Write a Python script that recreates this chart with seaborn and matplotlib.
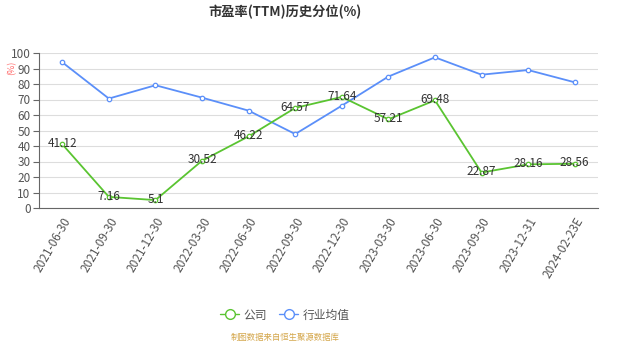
import numpy as np
import pandas as pd
import matplotlib
matplotlib.use("Agg")
import matplotlib.pyplot as plt
import seaborn as sns
from matplotlib.lines import Line2D

dates = ['2021-06-30', '2021-09-30', '2021-12-30', '2022-03-30', '2022-06-30',
         '2022-09-30', '2022-12-30', '2023-03-30', '2023-06-30', '2023-09-30',
         '2023-12-31', '2024-02-23E']
company = [41.12, 7.16, 5.1, 30.52, 46.22, 64.57, 71.64, 57.21, 69.48, 22.87, 28.16, 28.56]
industry = [94.0, 70.6, 79.2, 71.2, 62.8, 47.7, 66.0, 84.8, 97.2, 86.0, 89.0, 81.1]

green = '#5ac431'
blue = '#5b8ff9'

sns.set_style("white")
plt.rcParams['font.family'] = ['Noto Sans CJK SC', 'DejaVu Sans']

fig = plt.figure(figsize=(6.38, 3.51), dpi=100)
ax = fig.add_axes([39 / 638, 1 - 208 / 351, (598 - 39) / 638, (208 - 53) / 351])

# 两条折线分别画，保证空心圆点的描边颜色
for vals, c in [(industry, blue), (company, green)]:
    sns.lineplot(x=np.arange(len(dates)), y=vals, color=c, marker='o', markersize=3.2,
                 markerfacecolor='white', markeredgecolor=c, markeredgewidth=0.9,
                 linewidth=1.3, ax=ax, legend=False)

# 数据标签
for i, v in enumerate(company):
    ax.text(i, v + 0.5, f'{v:g}', ha='center', va='center', fontsize=8.5, color='#333333')

ax.set_xlim(-0.5, len(dates) - 0.5)
ax.set_ylim(0, 100)
ax.set_yticks(range(0, 101, 10))
ax.set_xticks(np.arange(-0.5, len(dates), 1))
ax.set_xticklabels([])
ax.set_xticks(range(len(dates)), minor=True)
ax.set_xticklabels(dates, minor=True, rotation=60, ha='right', rotation_mode='anchor',
                   fontsize=8.5, color='#555555')
ax.tick_params(axis='x', which='minor', length=0, pad=5)
ax.tick_params(axis='x', which='major', length=4, color='#666666', width=0.8)
ax.tick_params(axis='y', length=4, color='#666666', width=0.8, labelsize=8.5,
               labelcolor='#555555', pad=2, left=True)
ax.set_xlabel('')
ax.set_ylabel('')

ax.grid(axis='y', color='#dddddd', linewidth=0.8)
ax.set_axisbelow(True)
for s in ['top', 'right']:
    ax.spines[s].set_visible(False)
ax.spines['left'].set_color('#666666')
ax.spines['bottom'].set_color('#666666')
ax.spines['left'].set_linewidth(0.8)
ax.spines['bottom'].set_linewidth(0.8)

cx = 285 / 638
fig.text(cx, 1 - 12 / 351, '市盈率(TTM)历史分位(%)', ha='center', va='center',
         fontsize=9.5, fontweight='bold', color='#333333')
fig.text(12 / 638, 1 - 68 / 351, '(%)', ha='center', va='center', rotation=90,
         fontsize=6.5, color='#ff6666')

handles = [
    Line2D([], [], color=green, marker='o', markersize=7, markerfacecolor='white',
           linewidth=1),
    Line2D([], [], color=blue, marker='o', markersize=7, markerfacecolor='white',
           linewidth=1),
]
fig.legend(handles, ['公司', '行业均值'], loc='center', bbox_to_anchor=(cx, 1 - 315 / 351),
           ncol=2, frameon=False, fontsize=8.5, labelcolor='#555555', handlelength=1.6,
           handletextpad=0.4, columnspacing=1.0)

fig.text(cx, 1 - 337 / 351, '制图数据来自恒生聚源数据库', ha='center', va='center',
         fontsize=6, color='#d4a64a')

fig.savefig('out.png', dpi=100)
